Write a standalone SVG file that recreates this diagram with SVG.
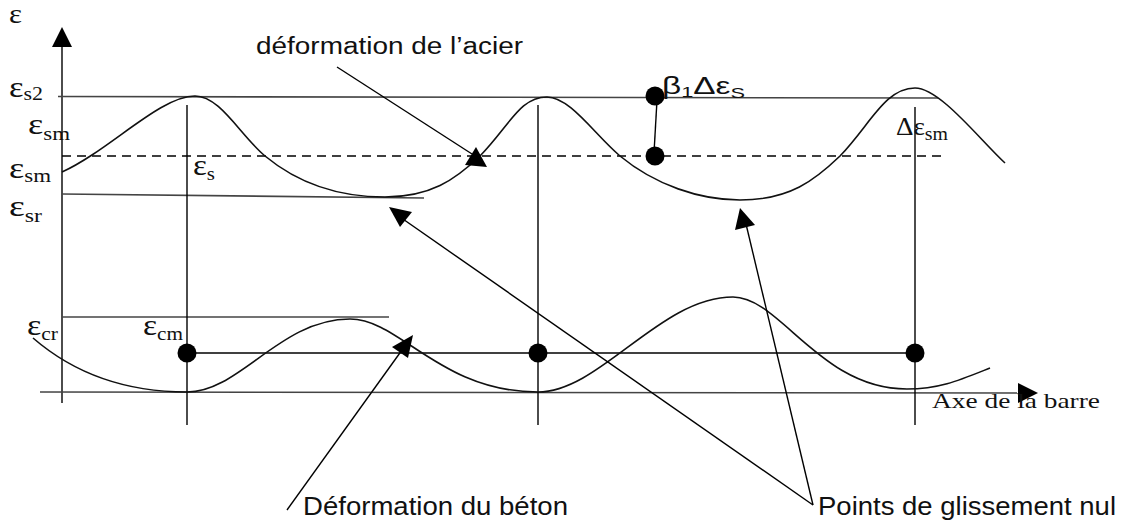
<svg xmlns="http://www.w3.org/2000/svg" width="1125" height="522" viewBox="0 0 1125 522">
<style>
.ln{stroke:#000;stroke-width:1.4;fill:none}
.ref{stroke:#444;stroke-width:1.6;fill:none}
.crv{stroke:#111;stroke-width:1.6;fill:none}
.dash{stroke:#000;stroke-width:1.4;fill:none;stroke-dasharray:9,6}
.dot{fill:#000}
.head{fill:#000}
.gr{font-family:"Liberation Serif","Times New Roman",serif;fill:#111}
.sn{font-family:"Liberation Sans",Arial,sans-serif;fill:#111}
</style>
<rect width="1125" height="522" fill="#fff"/>
<g id="axes">
<line class="ln" x1="62" y1="45" x2="62" y2="403"/>
<polygon class="head" points="62,27 52,47 72,47"/>
<line class="ref" x1="40" y1="392" x2="1018" y2="393"/>
<polygon class="head" points="1018,383 1018,403 1038,393"/>
</g>
<g id="reference-lines">
<line class="ref" x1="58" y1="96.5" x2="938" y2="98"/>
<line class="dash" x1="62" y1="156" x2="942" y2="156"/>
<line class="ref" x1="62" y1="194" x2="424" y2="198"/>
<line class="ref" x1="62" y1="317" x2="389" y2="317"/>
<line class="ln" x1="187" y1="353" x2="915" y2="353"/>
<line class="ln" x1="187" y1="105" x2="187" y2="425"/>
<line class="ln" x1="538" y1="105" x2="538" y2="425"/>
<line class="ln" x1="915" y1="107" x2="915" y2="425"/>
<line class="ln" x1="657" y1="100" x2="654" y2="153"/>
</g>
<g id="curve-acier">
<path class="crv" d="M62,172 C110,150 160,96 195,96 C220,96 240,135 265,156 C300,185 340,197 385,197 C430,197 455,180 480,156 C510,125 520,97 547,97 C570,97 595,135 620,156 C655,185 700,200 740,200 C790,200 815,180 840,156 C870,125 885,88 915,88 C940,88 980,140 1005,163"/>
</g>
<g id="curve-beton">
<path class="crv" d="M33,338 C70,370 120,392 187,392 C240,392 280,319 350,319 C400,319 440,392 538,392 C600,392 660,297 733,297 C780,297 820,389 907,389 C940,389 960,380 990,368"/>
</g>
<g id="points">
<circle class="dot" cx="187" cy="353" r="9.5"/>
<circle class="dot" cx="538" cy="353" r="9.5"/>
<circle class="dot" cx="915" cy="353" r="9.5"/>
<circle class="dot" cx="655" cy="96" r="9.5"/>
<circle class="dot" cx="655" cy="156" r="9.5"/>
</g>
<g id="connectors">
<line class="ln" x1="337" y1="67" x2="472" y2="154"/>
<polygon class="head" points="476,147 465,165 487,167"/>
<line class="ln" x1="287" y1="510" x2="402" y2="350"/>
<polygon class="head" points="413,335 392,347 408,358"/>
<line class="ln" x1="813" y1="505" x2="400" y2="217"/>
<polygon class="head" points="389,207 400,227 412,212"/>
<line class="ln" x1="813" y1="505" x2="746" y2="224"/>
<polygon class="head" points="740,208 735,230 755,225"/>
</g>
<g id="labels">
<text class="gr" x="9" y="23" font-size="28" textLength="13" lengthAdjust="spacingAndGlyphs">ε</text>
<text class="gr" x="9" y="97" font-size="30" textLength="34" lengthAdjust="spacingAndGlyphs">ε<tspan font-size="19" dy="3">s2</tspan></text>
<text class="gr" x="28" y="134" font-size="30" textLength="42" lengthAdjust="spacingAndGlyphs">ε<tspan font-size="19" dy="6">sm</tspan></text>
<text class="gr" x="9" y="178" font-size="30" textLength="42" lengthAdjust="spacingAndGlyphs">ε<tspan font-size="19" dy="4">sm</tspan></text>
<text class="gr" x="193" y="175" font-size="30" textLength="22" lengthAdjust="spacingAndGlyphs">ε<tspan font-size="19" dy="5">s</tspan></text>
<text class="gr" x="9" y="216" font-size="30" textLength="33" lengthAdjust="spacingAndGlyphs">ε<tspan font-size="19" dy="6">sr</tspan></text>
<text class="gr" x="27" y="335" font-size="30" textLength="31" lengthAdjust="spacingAndGlyphs">ε<tspan font-size="19" dy="5">cr</tspan></text>
<text class="gr" x="143" y="335" font-size="30" textLength="40" lengthAdjust="spacingAndGlyphs">ε<tspan font-size="19" dy="5">cm</tspan></text>
<text class="sn" x="662" y="94" font-size="23" textLength="83" lengthAdjust="spacingAndGlyphs">β<tspan font-size="15" dy="3">1</tspan><tspan dy="-3">Δε</tspan><tspan font-size="15" dy="4">S</tspan></text>
<text class="gr" x="896" y="135" font-size="26" textLength="52" lengthAdjust="spacingAndGlyphs">Δε<tspan font-size="19" dy="5">sm</tspan></text>
<text class="gr" x="932" y="408" font-size="22" textLength="168" lengthAdjust="spacingAndGlyphs">Axe de la barre</text>
<text class="sn" x="256" y="54" font-size="23" textLength="267" lengthAdjust="spacingAndGlyphs">déformation de l’acier</text>
<text class="sn" x="303" y="515" font-size="25" textLength="265" lengthAdjust="spacingAndGlyphs">Déformation du béton</text>
<text class="sn" x="818" y="515" font-size="25" textLength="298" lengthAdjust="spacingAndGlyphs">Points de glissement nul</text>
</g>
</svg>
